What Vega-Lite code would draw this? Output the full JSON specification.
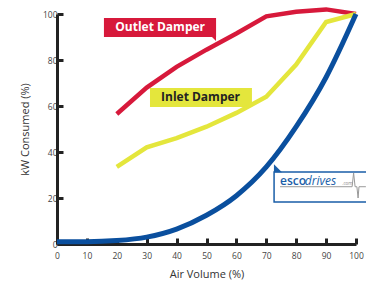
{
  "$schema": "https://vega.github.io/schema/vega-lite/v6.json",
  "autosize": "none",
  "width": 299,
  "height": 230,
  "padding": {"left": 57, "top": 14, "right": 10, "bottom": 38},
  "background": "white",
  "config": {
    "view": {"stroke": null},
    "font": "Open Sans",
    "axis": {
      "grid": false,
      "zindex": 1,
      "domainColor": "#222",
      "domainWidth": 3,
      "tickColor": "#222",
      "tickWidth": 3,
      "tickSize": -6,
      "labelColor": "#444",
      "labelFontSize": 8.5,
      "labelFlush": false,
      "labelOverlap": false,
      "titleColor": "#333",
      "titleFontSize": 11,
      "titleFontWeight": "normal"
    },
    "axisX": {"tickCount": 11},
    "axisY": {"tickCount": 6}
  },
  "datasets": {
    "curves": [
      {"series": "Outlet Damper", "air": 20, "kw": 56.5},
      {"series": "Outlet Damper", "air": 30, "kw": 68},
      {"series": "Outlet Damper", "air": 40, "kw": 77},
      {"series": "Outlet Damper", "air": 50, "kw": 84.5},
      {"series": "Outlet Damper", "air": 60, "kw": 91.5},
      {"series": "Outlet Damper", "air": 70, "kw": 99},
      {"series": "Outlet Damper", "air": 80, "kw": 101},
      {"series": "Outlet Damper", "air": 90, "kw": 102},
      {"series": "Outlet Damper", "air": 100, "kw": 100},
      {"series": "Inlet Damper", "air": 20, "kw": 33.5},
      {"series": "Inlet Damper", "air": 30, "kw": 42},
      {"series": "Inlet Damper", "air": 40, "kw": 46},
      {"series": "Inlet Damper", "air": 50, "kw": 51},
      {"series": "Inlet Damper", "air": 60, "kw": 57},
      {"series": "Inlet Damper", "air": 70, "kw": 64},
      {"series": "Inlet Damper", "air": 80, "kw": 78},
      {"series": "Inlet Damper", "air": 90, "kw": 96.5},
      {"series": "Inlet Damper", "air": 100, "kw": 100},
      {"series": "Drive", "air": 0, "kw": 1},
      {"series": "Drive", "air": 10, "kw": 1},
      {"series": "Drive", "air": 20, "kw": 1.5},
      {"series": "Drive", "air": 30, "kw": 3},
      {"series": "Drive", "air": 40, "kw": 6.5},
      {"series": "Drive", "air": 50, "kw": 12.5},
      {"series": "Drive", "air": 60, "kw": 21},
      {"series": "Drive", "air": 70, "kw": 33.5},
      {"series": "Drive", "air": 80, "kw": 51},
      {"series": "Drive", "air": 90, "kw": 72.5},
      {"series": "Drive", "air": 100, "kw": 100}
    ],
    "boxes": [
      {"label": "Outlet Damper", "x1": 15.7, "x2": 53.2, "y1": 98.3, "y2": 90, "tx": 34.5, "ty": 94.2},
      {"label": "Inlet Damper", "x1": 31.1, "x2": 65.2, "y1": 67.8, "y2": 59.6, "tx": 48, "ty": 63.7}
    ],
    "pulse": [
      {"x": 74.6, "y": 24.9},
      {"x": 98.7, "y": 24.9},
      {"x": 99.2, "y": 30.9},
      {"x": 99.7, "y": 24.9},
      {"x": 100.3, "y": 24.9},
      {"x": 100.7, "y": 20},
      {"x": 101, "y": 24.9},
      {"x": 103.3, "y": 24.9}
    ]
  },
  "layer": [
    {
      "data": {"name": "boxes"},
      "transform": [{"filter": "datum.label === 'Outlet Damper'"}],
      "mark": {"type": "rect", "color": "#d7193b"},
      "encoding": {
        "x": {"field": "x1", "type": "quantitative", "scale": {"domain": [0, 100]}, "title": "Air Volume (%)", "axis": {"values": [0,10,20,30,40,50,60,70,80,90,100], "tickCount": 11, "labelOverlap": false, "labelPadding": 13, "titlePadding": 9}},
        "x2": {"field": "x2"},
        "y": {"field": "y1", "type": "quantitative", "scale": {"domain": [0, 100]}, "title": "kW Consumed (%)", "axis": {"values": [0,20,40,60,80,100], "labelOverlap": false, "labelPadding": 6, "titlePadding": 12}},
        "y2": {"field": "y2"}
      }
    },
    {
      "data": {"values": [{"x": 52.5, "y": 89.1}]},
      "mark": {"type": "point", "shape": "M-1,-1 L1,-1 L1,1 Z", "size": 16, "filled": true, "color": "#d7193b", "opacity": 1},
      "encoding": {
        "x": {"field": "x", "type": "quantitative"},
        "y": {"field": "y", "type": "quantitative"}
      }
    },
    {
      "data": {"name": "boxes"},
      "transform": [{"filter": "datum.label === 'Inlet Damper'"}],
      "mark": {"type": "rect", "color": "#e4e63c"},
      "encoding": {
        "x": {"field": "x1", "type": "quantitative"},
        "x2": {"field": "x2"},
        "y": {"field": "y1", "type": "quantitative"},
        "y2": {"field": "y2"}
      }
    },
    {
      "data": {"name": "boxes"},
      "mark": {"type": "text", "fontWeight": "bold", "fontSize": 12, "align": "center", "baseline": "middle"},
      "encoding": {
        "x": {"field": "tx", "type": "quantitative"},
        "y": {"field": "ty", "type": "quantitative"},
        "text": {"field": "label"},
        "color": {"field": "label", "type": "nominal", "scale": {"domain": ["Outlet Damper", "Inlet Damper"], "range": ["#ffffff", "#222222"]}, "legend": null}
      }
    },
    {
      "data": {"name": "curves"},
      "transform": [{"filter": "datum.series === 'Outlet Damper'"}],
      "mark": {"type": "line", "color": "#d7193b", "strokeWidth": 4.5},
      "encoding": {
        "x": {"field": "air", "type": "quantitative"},
        "y": {"field": "kw", "type": "quantitative"}
      }
    },
    {
      "data": {"name": "curves"},
      "transform": [{"filter": "datum.series === 'Inlet Damper'"}],
      "mark": {"type": "line", "color": "#e4e63c", "strokeWidth": 4.5},
      "encoding": {
        "x": {"field": "air", "type": "quantitative"},
        "y": {"field": "kw", "type": "quantitative"}
      }
    },
    {
      "data": {"name": "curves"},
      "transform": [{"filter": "datum.series === 'Drive'"}],
      "mark": {"type": "line", "color": "#0a4f9e", "strokeWidth": 5, "interpolate": "monotone"},
      "encoding": {
        "x": {"field": "air", "type": "quantitative"},
        "y": {"field": "kw", "type": "quantitative"}
      }
    },
    {
      "data": {"values": [{"x1": 72.6, "x2": 104, "y1": 31.3, "y2": 18.3}]},
      "mark": {"type": "rect", "fill": "white", "stroke": "#1a5ea8", "strokeWidth": 1.5},
      "encoding": {
        "x": {"field": "x1", "type": "quantitative"},
        "x2": {"field": "x2"},
        "y": {"field": "y1", "type": "quantitative"},
        "y2": {"field": "y2"}
      }
    },
    {
      "data": {"values": [{"x": 73.9, "y": 32.9}]},
      "mark": {"type": "point", "shape": "M-1,-1 L-1,1 L1,1 Z", "size": 64, "filled": true, "color": "#1a5ea8", "opacity": 1},
      "encoding": {
        "x": {"field": "x", "type": "quantitative"},
        "y": {"field": "y", "type": "quantitative"}
      }
    },
    {
      "data": {"values": [{"x": 74.6, "y": 27.5, "t": "esco"}]},
      "mark": {"type": "text", "align": "left", "baseline": "middle", "fontSize": 12, "fontWeight": 600, "color": "#1a5ea8"},
      "encoding": {
        "x": {"field": "x", "type": "quantitative"},
        "y": {"field": "y", "type": "quantitative"},
        "text": {"field": "t"}
      }
    },
    {
      "data": {"values": [{"x": 82.9, "y": 27.5, "t": "drives"}]},
      "mark": {"type": "text", "align": "left", "baseline": "middle", "fontSize": 12, "fontStyle": "italic", "color": "#1a5ea8"},
      "encoding": {
        "x": {"field": "x", "type": "quantitative"},
        "y": {"field": "y", "type": "quantitative"},
        "text": {"field": "t"}
      }
    },
    {
      "data": {"values": [{"x": 95.4, "y": 25.3, "t": ".com"}]},
      "mark": {"type": "text", "align": "left", "baseline": "bottom", "fontSize": 4.5, "color": "#888888"},
      "encoding": {
        "x": {"field": "x", "type": "quantitative"},
        "y": {"field": "y", "type": "quantitative"},
        "text": {"field": "t"}
      }
    },
    {
      "data": {"name": "pulse"},
      "mark": {"type": "line", "color": "#999999", "strokeWidth": 1},
      "encoding": {
        "x": {"field": "x", "type": "quantitative"},
        "y": {"field": "y", "type": "quantitative"}
      }
    }
  ]
}
